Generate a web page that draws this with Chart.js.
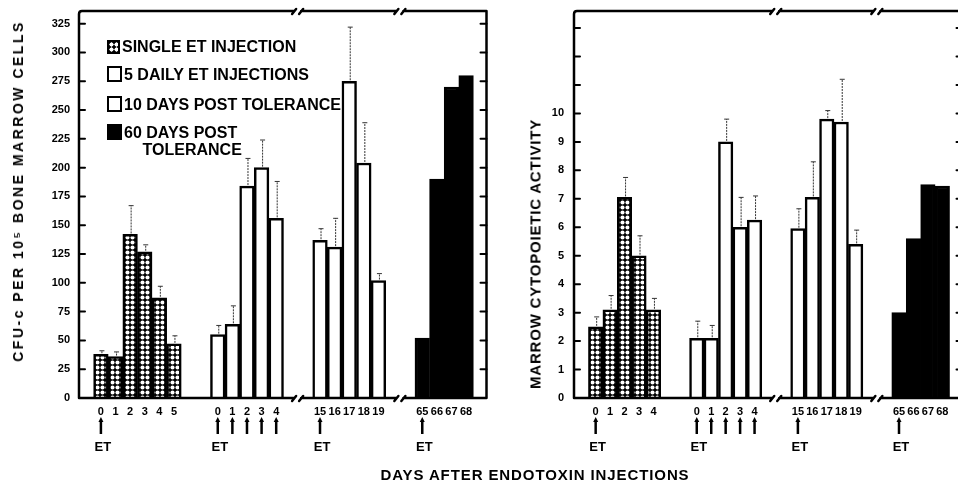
<!DOCTYPE html>
<html>
<head>
<meta charset="utf-8">
<script src="https://cdn.jsdelivr.net/npm/chart.js@4.4.1/dist/chart.umd.min.js"></script>
<style>
  body { margin: 0; background: #fff; }
  #wrap {
    position: relative; width: 958px; height: 483px; overflow: hidden;
    font-family: "Liberation Sans", Arial, sans-serif; font-weight: bold; color: #000;
  }
  canvas { position: absolute; top: 0; }
  #cfu-chart { left: 0; }
  #cyto-chart { left: 480px; }
  .ytitle {
    position: absolute; white-space: nowrap;
    transform: translate(-50%, -50%) rotate(-90deg);
  }
  #cfu-title { left: 18px; top: 191px; font-size: 14px; letter-spacing: 2.5px; }
  #cyto-title { left: 535px; top: 254px; font-size: 15px; letter-spacing: 0.8px; }
  #x-title {
    position: absolute; left: 535px; top: 474px; transform: translate(-50%, -50%);
    font-size: 15px; letter-spacing: 0.9px; white-space: nowrap;
  }
  .legend { position: absolute; left: 107px; top: 0; font-size: 16px; line-height: 17px; }
  .legend div { position: absolute; left: 0; white-space: nowrap; }
  .sw {
    display: inline-block; width: 11px; height: 12px; border: 2px solid #000;
    vertical-align: -2px; margin-right: 2px; background: #fff;
  }
  .sw.dots { background: radial-gradient(circle, #fff 1.9px, #000 2.3px) 0 0 / 5px 5px; width: 9px; height: 10px; }
  .sw.solid { background: #000; }
</style>
</head>
<body>
<div id="wrap">
  <canvas id="cfu-chart" width="490" height="483"></canvas>
  <canvas id="cyto-chart" width="484" height="483"></canvas>
  <div class="ytitle" id="cfu-title">CFU-c PER 10⁵ BONE MARROW CELLS</div>
  <div class="ytitle" id="cyto-title">MARROW CYTOPOIETIC ACTIVITY</div>
  <div id="x-title">DAYS AFTER ENDOTOXIN INJECTIONS</div>
  <div class="legend">
    <div style="top:38px"><span class="sw dots"></span>SINGLE ET INJECTION</div>
    <div style="top:66px"><span class="sw"></span>5 DAILY ET INJECTIONS</div>
    <div style="top:96px"><span class="sw"></span>10 DAYS POST TOLERANCE</div>
    <div style="top:124px"><span class="sw solid"></span>60 DAYS POST<br>&nbsp;&nbsp;&nbsp;&nbsp;&nbsp;&nbsp;&nbsp;&nbsp;TOLERANCE</div>
  </div>
</div>
<script>
// days sampled in each treatment group
const singleDaysCfu = [0, 1, 2, 3, 4, 5];
const singleDaysCyto = [0, 1, 2, 3, 4];
const dailyDays = [0, 1, 2, 3, 4];
const post10Days = [15, 16, 17, 18, 19];
const post60Days = [65, 66, 67, 68];

// ET injection days (arrows under the axis)
const singleShots = [0];
const dailyShots = [0, 1, 2, 3, 4];
const post10Shots = [15];
const post60Shots = [65];

// CFU-c per 10^5 bone marrow cells (mean, top of error bar)
const cfuSingle = [38, 36, 142, 127, 87, 47];
const cfuSingleErr = [41, 40, 167, 133, 97, 54];
const cfuDaily = [55, 64, 184, 200, 156];
const cfuDailyErr = [63, 80, 208, 224, 188];
const cfuPost10 = [137, 131, 275, 204, 102];
const cfuPost10Err = [147, 156, 322, 239, 108];
const cfuPost60 = [52, 190, 270, 280];

// marrow cytopoietic activity
const cytoSingle = [2.5, 3.1, 7.05, 5.0, 3.1];
const cytoSingleErr = [2.85, 3.6, 7.75, 5.7, 3.5];
const cytoDaily = [2.1, 2.1, 9.0, 6.0, 6.25];
const cytoDailyErr = [2.7, 2.55, 9.8, 7.05, 7.1];
const cytoPost10 = [5.95, 7.05, 9.8, 9.7, 5.4];
const cytoPost10Err = [6.65, 8.3, 10.1, 11.2, 5.9];
const cytoPost60 = [3.0, 5.6, 7.5, 7.45];

const FONT = "'Liberation Sans', Arial, sans-serif";

const stipple = (ctx) => {
  const c = document.createElement("canvas");
  c.width = c.height = 5;
  const g = c.getContext("2d");
  g.fillStyle = "#000";
  g.fillRect(0, 0, 5, 5);
  g.fillStyle = "#fff";
  g.beginPath();
  g.arc(2.5, 2.5, 2.05, 0, Math.PI * 2);
  g.fill();
  return ctx.createPattern(c, "repeat");
};

// lay groups out on one category axis with blank slots between them
const buildSlots = (groups, lead, gap, trail) => {
  const labels = [];
  const starts = [];
  for (let i = 0; i < lead; i++) labels.push("");
  groups.forEach((days, g) => {
    if (g > 0) for (let i = 0; i < gap; i++) labels.push("");
    starts.push(labels.length);
    days.forEach((d) => labels.push(String(d)));
  });
  for (let i = 0; i < trail; i++) labels.push("");
  return { labels, starts };
};

const spread = (n, start, values) => {
  const out = new Array(n).fill(null);
  (values || []).forEach((v, i) => (out[start + i] = v));
  return out;
};

const errorBarsPlugin = {
  id: "errorBars",
  afterDatasetsDraw(chart) {
    const { ctx, scales: { y } } = chart;
    ctx.save();
    ctx.strokeStyle = "#333";
    ctx.lineWidth = 1;
    chart.data.datasets.forEach((ds, i) => {
      if (!ds.errTop) return;
      const meta = chart.getDatasetMeta(i);
      ds.errTop.forEach((top, k) => {
        if (top == null) return;
        const bar = meta.data[k];
        const y0 = y.getPixelForValue(ds.data[k]);
        const y1 = y.getPixelForValue(top);
        ctx.setLineDash([2, 1]);
        ctx.beginPath();
        ctx.moveTo(bar.x + 1, y0 - 1);
        ctx.lineTo(bar.x + 1, y1);
        ctx.stroke();
        ctx.setLineDash([]);
        ctx.beginPath();
        ctx.moveTo(bar.x - 1.5, y1);
        ctx.lineTo(bar.x + 3.5, y1);
        ctx.stroke();
      });
    });
    ctx.restore();
  },
};

const brokenLine = (ctx, x0, x1, yy, breaks) => {
  let from = x0;
  breaks.forEach((bx) => {
    ctx.moveTo(from, yy);
    ctx.lineTo(bx - 4, yy);
    ctx.moveTo(bx - 6, yy + 3);
    ctx.lineTo(bx - 2, yy - 2);
    ctx.moveTo(bx + 1, yy + 3);
    ctx.lineTo(bx + 5, yy - 2);
    from = bx + 3;
  });
  ctx.moveTo(from, yy);
  ctx.lineTo(x1, yy);
};

const framePlugin = {
  id: "frame",
  afterDraw(chart, args, opts) {
    const { ctx, chartArea: a, scales: { x, y } } = chart;
    const half = (x.getPixelForValue(1) - x.getPixelForValue(0)) / 2;
    const starts = chart.data.datasets.map((ds) => ds.firstSlot);
    const ends = chart.data.datasets.map((ds) => ds.firstSlot + ds.days.length - 1);
    const breaks = opts.breakAfter.map((g) =>
      (x.getPixelForValue(ends[g]) + half + x.getPixelForValue(starts[g + 1]) - half) / 2
    );
    const right = a.right - 1.5;
    ctx.save();
    ctx.strokeStyle = "#000";
    ctx.lineCap = "round";
    ctx.lineJoin = "round";
    ctx.lineWidth = 2.5;
    ctx.beginPath();
    ctx.moveTo(a.left, a.bottom);
    ctx.lineTo(a.left, a.top + 3);
    ctx.quadraticCurveTo(a.left, a.top, a.left + 3, a.top);
    brokenLine(ctx, a.left + 3, right, a.top, breaks);
    ctx.moveTo(right, a.top);
    ctx.lineTo(right, a.bottom);
    brokenLine(ctx, a.left, right, a.bottom, breaks);
    ctx.stroke();
    // inward tick marks on both vertical borders
    ctx.lineWidth = 2;
    ctx.beginPath();
    y.ticks.forEach((t) => {
      if (t.value === 0) return;
      const py = y.getPixelForValue(t.value);
      ctx.moveTo(a.left, py);
      ctx.lineTo(a.left + 6, py);
      ctx.moveTo(right, py);
      ctx.lineTo(right - 6, py);
    });
    ctx.stroke();
    ctx.restore();
  },
};

const shotsPlugin = {
  id: "shots",
  afterDraw(chart) {
    const { ctx } = chart;
    ctx.save();
    ctx.fillStyle = "#000";
    ctx.strokeStyle = "#000";
    ctx.font = `bold 13px ${FONT}`;
    ctx.textAlign = "center";
    ctx.textBaseline = "middle";
    chart.data.datasets.forEach((ds, i) => {
      const meta = chart.getDatasetMeta(i);
      ds.shots.forEach((day, k) => {
        const px = meta.data[ds.firstSlot + ds.days.indexOf(day)].x;
        ctx.lineWidth = 2.5;
        ctx.beginPath();
        ctx.moveTo(px, 421);
        ctx.lineTo(px, 434);
        ctx.stroke();
        ctx.beginPath();
        ctx.moveTo(px - 2.5, 422);
        ctx.lineTo(px, 417);
        ctx.lineTo(px + 2.5, 422);
        ctx.closePath();
        ctx.fill();
        if (k === 0) ctx.fillText("ET", px + 2, 447);
      });
    });
    ctx.restore();
  },
};

const makePanel = (canvas, cfg) => {
  const ctx = canvas.getContext("2d");
  const { labels, starts } = buildSlots(cfg.groups.map((g) => g.days), 1, 2, 1);
  const fills = [stipple(ctx), "#fff", "#fff", "#000"];
  const n = labels.length;
  const datasets = cfg.groups.map((g, i) => ({
    data: spread(n, starts[i], g.values),
    errTop: g.errors ? spread(n, starts[i], g.errors) : null,
    days: g.days,
    shots: g.shots,
    firstSlot: starts[i],
    backgroundColor: fills[i],
    borderColor: "#000",
    borderWidth: 2.5,
    barPercentage: 1,
    categoryPercentage: 1,
    grouped: false,
  }));
  return new Chart(ctx, {
    type: "bar",
    data: { labels, datasets },
    options: {
      responsive: false,
      animation: false,
      events: [],
      layout: { padding: { top: 11, right: cfg.padRight, left: 0, bottom: 0 } },
      plugins: {
        legend: { display: false },
        tooltip: { enabled: false },
        frame: { breakAfter: [1, 2] },
      },
      scales: {
        x: {
          grid: { display: false, drawTicks: false },
          border: { display: false },
          ticks: {
            autoSkip: false,
            maxRotation: 0,
            padding: 7,
            color: "#000",
            font: { family: FONT, weight: "bold", size: 11 },
          },
          afterFit(s) {
            s.height = 85;
            s.paddingLeft = s.paddingRight = 0;
          },
        },
        y: {
          min: 0,
          max: cfg.max,
          grid: { display: false, drawTicks: false },
          border: { display: false },
          ticks: {
            stepSize: cfg.step,
            includeBounds: false,
            padding: cfg.tickPad,
            color: "#000",
            font: { family: FONT, weight: "bold", size: 11 },
            callback: cfg.tickLabel,
          },
          afterFit(s) {
            s.width = cfg.axisWidth;
            s.paddingTop = s.paddingBottom = 0;
          },
        },
      },
    },
    plugins: [errorBarsPlugin, framePlugin, shotsPlugin],
  });
};

makePanel(document.getElementById("cfu-chart"), {
  max: 336,
  step: 25,
  axisWidth: 79,
  tickPad: 9,
  padRight: 2,
  tickLabel: (v) => v,
  groups: [
    { days: singleDaysCfu, values: cfuSingle, errors: cfuSingleErr, shots: singleShots },
    { days: dailyDays, values: cfuDaily, errors: cfuDailyErr, shots: dailyShots },
    { days: post10Days, values: cfuPost10, errors: cfuPost10Err, shots: post10Shots },
    { days: post60Days, values: cfuPost60, errors: null, shots: post60Shots },
  ],
});

makePanel(document.getElementById("cyto-chart"), {
  max: 13.6,
  step: 1,
  axisWidth: 94,
  tickPad: 10,
  padRight: 0,
  tickLabel: (v) => (v <= 10 ? v : ""),
  groups: [
    { days: singleDaysCyto, values: cytoSingle, errors: cytoSingleErr, shots: singleShots },
    { days: dailyDays, values: cytoDaily, errors: cytoDailyErr, shots: dailyShots },
    { days: post10Days, values: cytoPost10, errors: cytoPost10Err, shots: post10Shots },
    { days: post60Days, values: cytoPost60, errors: null, shots: post60Shots },
  ],
});
</script>
</body>
</html>
